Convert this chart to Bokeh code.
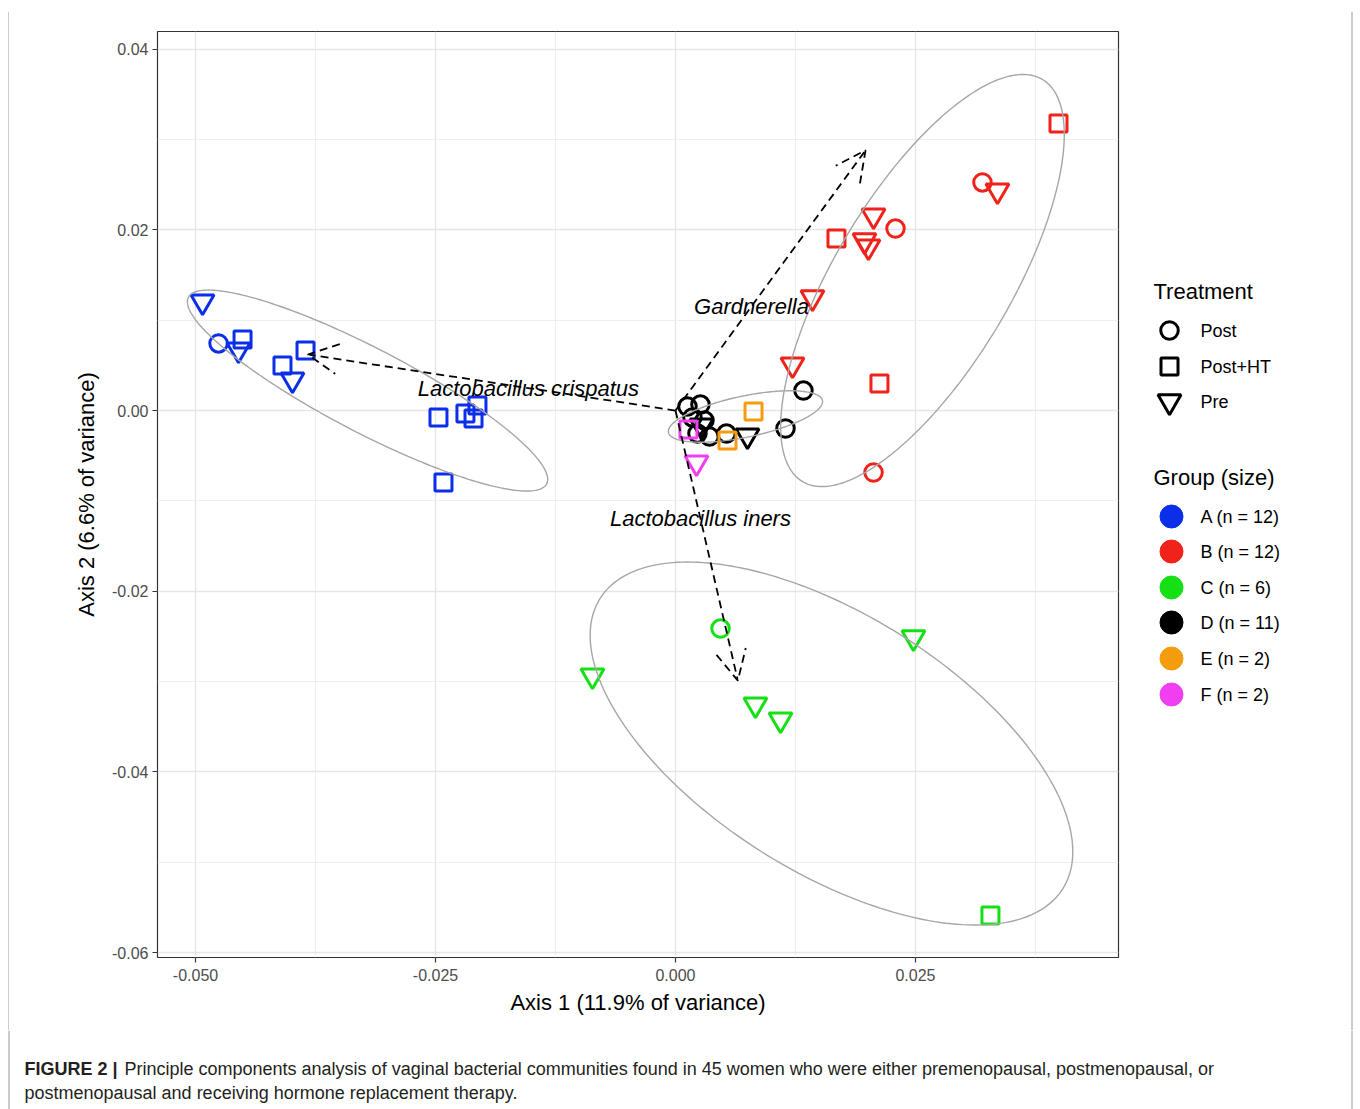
import numpy as np
from bokeh.plotting import figure
from bokeh.layouts import column, row
from bokeh.models import (ColumnDataSource, Range1d, FixedTicker, PrintfTickFormatter,
                          Arrow, OpenHead)
from bokeh.core.properties import value
from bokeh.embed import file_html
from bokeh.resources import INLINE

FONT = "Liberation Sans"

# ---- PCoA sample scores (Axis 1, Axis 2) per community group ----
groups = ["A", "B", "C", "D", "E", "F"]
group_sizes = [12, 12, 6, 11, 2, 2]
group_colors = ["#0B2FE8", "#F0221A", "#14E014", "#000000", "#F59C0C", "#F03EF0"]
treatments = ["Post", "Post+HT", "Pre"]

a_axis1 = [-0.04927, -0.04760, -0.04510, -0.04552, -0.04094, -0.03854,
           -0.03990, -0.02469, -0.02188, -0.02063, -0.02104, -0.02417]
a_axis2 = [0.01206, 0.00742, 0.00786, 0.00675, 0.00498, 0.00664,
           0.00343, -0.00077, -0.00033, 0.00055, -0.00089, -0.00797]
a_treat = ["Pre", "Post", "Post+HT", "Pre", "Post+HT", "Post+HT",
           "Pre", "Post+HT", "Post+HT", "Post+HT", "Post+HT", "Post+HT"]

b_axis1 = [0.03990, 0.03198, 0.03354, 0.02063, 0.02292, 0.01677,
           0.01969, 0.02010, 0.01427, 0.01219, 0.02125, 0.02063]
b_axis2 = [0.03177, 0.02524, 0.02435, 0.02158, 0.02014, 0.01904,
           0.01882, 0.01815, 0.01251, 0.00509, 0.00299, -0.00686]
b_treat = ["Post+HT", "Post", "Pre", "Pre", "Post", "Post+HT",
           "Pre", "Pre", "Pre", "Pre", "Post+HT", "Post"]

c_axis1 = [0.00469, -0.00865, 0.02479, 0.00833, 0.01094, 0.03281]
c_axis2 = [-0.02413, -0.02933, -0.02512, -0.03254, -0.03420, -0.05589]
c_treat = ["Post", "Pre", "Pre", "Pre", "Pre", "Post+HT"]

d_axis1 = [0.01333, 0.01146, 0.00750, 0.00125, 0.00260, 0.00177,
           0.00302, 0.00229, 0.00354, 0.00531, 0.00271]
d_axis2 = [0.00221, -0.00199, -0.00277, 0.00044, 0.00066, -0.00077,
           -0.00111, -0.00255, -0.00288, -0.00255, -0.00166]
d_treat = ["Post", "Post", "Pre", "Post", "Post", "Post",
           "Post", "Post", "Post", "Post", "Pre"]

e_axis1 = [0.00813, 0.00542]
e_axis2 = [-0.00010, -0.00332]
e_treat = ["Post+HT", "Post+HT"]

f_axis1 = [0.00135, 0.00219]
f_axis2 = [-0.00210, -0.00576]
f_treat = ["Post+HT", "Pre"]

# ---- taxon loading vectors ----
taxa = ["Gardnerella", "Lactobacillus crispatus", "Lactobacillus iners"]
taxa_axis1 = [0.0198, -0.0383, 0.0065]
taxa_axis2 = [0.0288, 0.0062, -0.0299]
label_scale = 0.4

# ---- 95% ellipses (centre + conjugate semi-axes, in axis units) ----
ell_groups = ["A", "B", "C", "D"]
ell_cx = [-0.03208, 0.02573, 0.01625, 0.00729]
ell_cy = [0.00221, 0.01439, -0.03686, -0.00066]
ell_u = [(0.01866, -0.01033), (0.01250, 0.02225), (0.02411, -0.01605), (0.00802, 0.00177)]
ell_v = [(0.00202, 0.00412), (0.00787, -0.00500), (-0.00712, -0.01208), (0.00043, -0.00223)]

# ---- axes ----
x_ticks = [-0.05, -0.025, 0.0, 0.025]
x_minor = [-0.0375, -0.0125, 0.0125, 0.0375]
y_ticks = [0.04, 0.02, 0.0, -0.02, -0.04, -0.06]
y_minor = [0.03, 0.01, -0.01, -0.03, -0.05]

caption_bold = "FIGURE 2 |"
caption_lines = ["Principle components analysis of vaginal bacterial communities found in 45 women "
                 "who were either premenopausal, postmenopausal, or",
                 "postmenopausal and receiving hormone replacement therapy."]

marker_of = {"Post": "circle", "Post+HT": "square", "Pre": "inverted_triangle"}
size_of = {"Post": 17.5, "Post+HT": 17, "Pre": 23}
STROKE = 3

# page geometry (pixels)
W, H = 1360, 1109
TOP_H = 11            # strip above the plot row (holds the figure frame's top edge)
LEFT_W = 9            # strip left of the main plot
MAIN_W = 1131
ROW_H = 1019
SIDE_W = W - LEFT_W - MAIN_W
CAP_H = H - TOP_H - ROW_H
FRAME_GREY = "#9A9A9A"


def blank(w, h, x0, y0):
    """A plain drawing area whose coordinates are page pixels (y grows downwards)."""
    f = figure(width=w, height=h, output_backend="svg", toolbar_location=None,
               x_range=Range1d(x0, x0 + w), y_range=Range1d(y0 + h, y0),
               x_axis_location=None, y_axis_location=None, min_border=0,
               frame_align=False)
    f.grid.visible = False
    f.outline_line_color = None
    f.background_fill_color = "white"
    f.border_fill_color = "white"
    return f


# ---- main scatter plot ----
p = figure(width=MAIN_W, height=ROW_H, output_backend="svg", toolbar_location=None,
           x_range=Range1d(-0.05396, 0.04615), y_range=Range1d(-0.06054, 0.04195),
           min_border_left=148, min_border_right=22, min_border_top=20, min_border_bottom=73,
           frame_align=False)
p.background_fill_color = "white"
p.border_fill_color = "white"
p.outline_line_color = "#333333"
p.outline_line_width = 1.2

for ax, ticks, minor, fmt in ((p.xaxis, x_ticks, x_minor, "%.3f"), (p.yaxis, y_ticks, y_minor, "%.2f")):
    ax.ticker = FixedTicker(ticks=ticks, minor_ticks=minor)
    ax.formatter = PrintfTickFormatter(format=fmt)
    ax.axis_line_color = None
    ax.major_tick_line_color = "#333333"
    ax.major_tick_line_width = 1.2
    ax.major_tick_out = 5
    ax.major_tick_in = 0
    ax.minor_tick_line_color = None
    ax.major_label_text_font = FONT
    ax.major_label_text_font_size = "16px"
    ax.major_label_text_color = "#4D4D4D"
    ax.axis_label_text_font = FONT
    ax.axis_label_text_font_size = "22px"
    ax.axis_label_text_font_style = "normal"
    ax.axis_label_text_color = "black"

p.xaxis.axis_label = "Axis 1 (11.9% of variance)"
p.yaxis.axis_label = "Axis 2 (6.6% of variance)"
p.xaxis.major_label_standoff = 6
p.xaxis.axis_label_standoff = 6
p.yaxis.major_label_standoff = 4
p.yaxis.axis_label_standoff = 10

for g in (p.xgrid, p.ygrid):
    g.grid_line_color = "#E6E6E6"
    g.grid_line_width = 1.4
    g.minor_grid_line_color = "#EDEDED"
    g.minor_grid_line_width = 0.9

# sample points
xs, ys, tr, cols = [], [], [], []
for col, ax1, ax2, tt in zip(group_colors,
                             [a_axis1, b_axis1, c_axis1, d_axis1, e_axis1, f_axis1],
                             [a_axis2, b_axis2, c_axis2, d_axis2, e_axis2, f_axis2],
                             [a_treat, b_treat, c_treat, d_treat, e_treat, f_treat]):
    xs += ax1
    ys += ax2
    tr += tt
    cols += [col] * len(ax1)

pts = ColumnDataSource(dict(x=xs, y=ys, marker=[marker_of[t] for t in tr],
                            size=[size_of[t] for t in tr], color=cols))
p.scatter("x", "y", marker="marker", size="size", source=pts,
          fill_color=None, line_color="color", line_width=STROKE)

# group ellipses
t = np.linspace(0, 2 * np.pi, 240)
for cx, cy, u, v in zip(ell_cx, ell_cy, ell_u, ell_v):
    ex = cx + np.cos(t) * u[0] + np.sin(t) * v[0]
    ey = cy + np.cos(t) * u[1] + np.sin(t) * v[1]
    p.line(ex, ey, line_color="#A6A6A6", line_width=1.4)

# taxon arrows and labels
arr = ColumnDataSource(dict(x0=[0.0] * len(taxa), y0=[0.0] * len(taxa),
                            x1=taxa_axis1, y1=taxa_axis2))
p.add_layout(Arrow(x_start="x0", y_start="y0", x_end="x1", y_end="y1", source=arr,
                   line_color="black", line_width=1.8, line_dash="8 5",
                   end=OpenHead(size=30, line_color="black", line_width=1.8, line_dash="8 5")))
lab = ColumnDataSource(dict(x=[label_scale * v for v in taxa_axis1],
                            y=[label_scale * v for v in taxa_axis2], name=taxa))
p.text("x", "y", text="name", source=lab, text_font=value(FONT), text_font_style="italic",
       text_font_size="22px", text_align="center", text_baseline="middle", text_color="black")

# ---- legend panel ----
side = blank(SIDE_W, ROW_H, LEFT_W + MAIN_W, TOP_H)
txt = dict(text_font=value(FONT), text_baseline="middle", text_align="left", text_color="black")

side.text(x=[1153, 1153], y=[291, 477], text=["Treatment", "Group (size)"],
          text_font_size="22px", **txt)

treat_y = [330, 366, 401]
side.scatter(x=[1169] * len(treatments), y=treat_y, marker=[marker_of[k] for k in treatments],
             size=[size_of[k] for k in treatments], fill_color=None, line_color="black",
             line_width=STROKE)
side.text(x=[1200] * len(treatments), y=treat_y, text=treatments, text_font_size="18px", **txt)

group_y = [516, 551, 587, 622, 658, 694]
side.scatter(x=[1171] * len(groups), y=group_y, marker="circle", size=23,
             fill_color=group_colors, line_color=group_colors, line_width=1)
side.text(x=[1200] * len(groups), y=group_y,
          text=[f"{g} (n = {n})" for g, n in zip(groups, group_sizes)],
          text_font_size="18px", **txt)

# ---- caption ----
cap = blank(W, CAP_H, 0, TOP_H + ROW_H)
cap.text(x=[24], y=[1068], text=[caption_bold], text_font=value(FONT), text_font_size="18px",
         text_font_style="bold", text_color="#231F20", text_baseline="middle")
cap.text(x=[124, 24], y=[1068, 1092], text=caption_lines, text_font=value(FONT),
         text_font_size="18px", text_color="#231F20", text_baseline="middle")

# ---- thin frame around the whole figure ----
top = blank(W, TOP_H, 0, 0)
left = blank(LEFT_W, ROW_H, 0, TOP_H)
frame_kw = dict(line_color=FRAME_GREY, line_width=1)
top.line(x=[8.5, 1351.5], y=[10.5, 10.5], **frame_kw)
top.segment(x0=[8.5, 1351.5], y0=[10.5, 10.5], x1=[8.5, 1351.5], y1=[TOP_H, TOP_H], **frame_kw)
left.segment(x0=[8.5], y0=[TOP_H], x1=[8.5], y1=[TOP_H + ROW_H], **frame_kw)
side.segment(x0=[1351.5], y0=[TOP_H], x1=[1351.5], y1=[TOP_H + ROW_H], **frame_kw)
cap.segment(x0=[8.5, 1351.5], y0=[TOP_H + ROW_H] * 2, x1=[8.5, 1351.5], y1=[H, H], **frame_kw)

layout = column(top, row(left, p, side), cap)
open("out.html", "w").write(file_html(layout, INLINE))
